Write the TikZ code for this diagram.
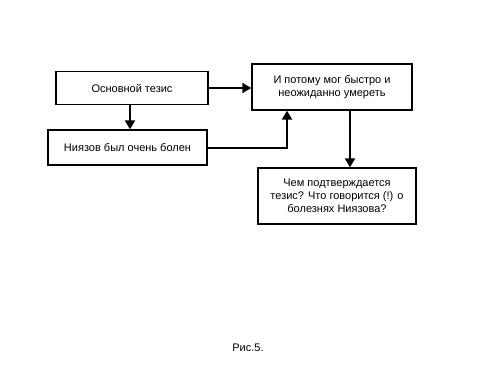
\documentclass[tikz,border=0pt]{standalone}
\usepackage{fontspec}
\setmainfont{Liberation Sans}
\usetikzlibrary{arrows.meta}
\begin{document}
\begin{tikzpicture}[x=1pt,y=-1pt,
  box/.style={draw,line width=1.3pt,minimum height=#1,inner sep=0pt,align=center,font=\fontsize{11}{13}\selectfont},
  conn/.style={line width=2pt,-{Triangle[length=9pt,width=10pt]}}]
\useasboundingbox (0,0) rectangle (500,375);
\node[box=33pt,minimum width=152pt] (a) at (132,88) {Основной тезис};
\node[box=35pt,minimum width=159pt] (b) at (127.5,147.5) {Ниязов был очень болен};
\node[box=46pt,minimum width=160pt] (c) at (332,87) {И потому мог быстро и\\неожиданно умереть};
\node[box=56pt,minimum width=158pt] (d) at (337,196) {Чем подтверждается\\тезис? Что говорится (!) о\\болезнях Ниязова?};
\node[font=\fontsize{11}{13}\selectfont] (cap) at (248,348) {Рис.5.};
\draw[conn] (a.east) -- (c.west |- a.east);
\coordinate (t) at (130,0);
\draw[conn] (a.south -| t) -- (b.north -| t);
\coordinate (k) at (287,147.5);
\draw[conn] (b.east) -- (k) -- (k |- c.south);
\coordinate (m) at (350,0);
\draw[conn] (m |- c.south) -- (m |- d.north);
\end{tikzpicture}
\end{document}
